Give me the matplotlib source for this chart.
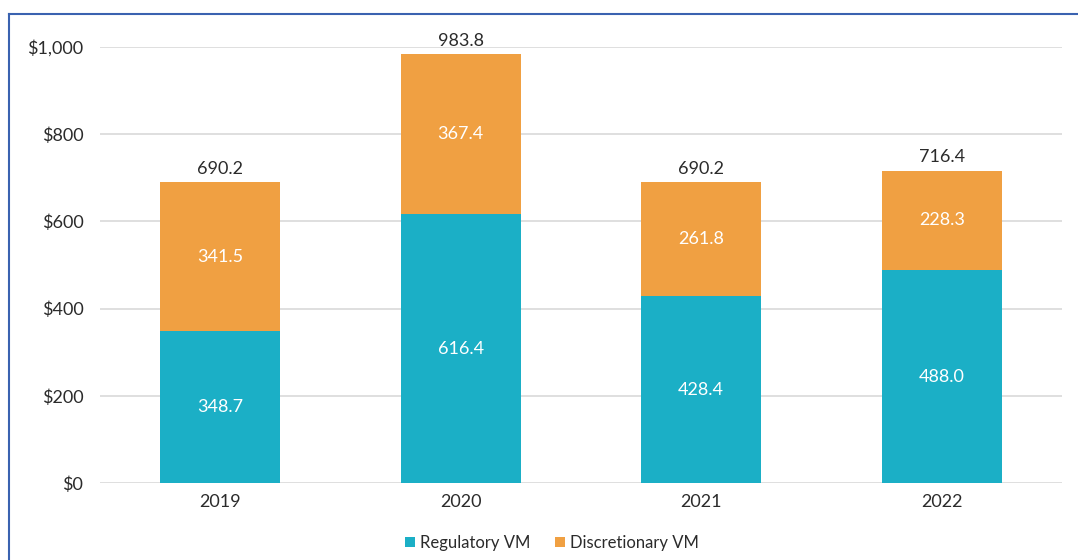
import matplotlib.pyplot as plt
import numpy as np

# Chart data
years = ['2019', '2020', '2021', '2022']
regulatory = [348.7, 616.4, 428.4, 488.0]
discretionary = [341.5, 367.4, 261.8, 228.3]
totals = [690.2, 983.8, 690.2, 716.4]
yticks = [0, 200, 400, 600, 800, 1000]
ytick_labels = ['$0', '$200', '$400', '$600', '$800', '$1,000']

teal = '#1BAFC6'
orange = '#F0A042'
text_col = '#2b2b2b'

plt.rcParams['font.family'] = ['Lato', 'DejaVu Sans']

fig = plt.figure(figsize=(10.78, 5.6), dpi=100)
ax = fig.add_axes([100 / 1078, 77 / 560, 962 / 1078, 436 / 560])

x = np.arange(len(years))
ax.bar(x, regulatory, width=0.5, color=teal, label='Regulatory VM', zorder=3)
ax.bar(x, discretionary, width=0.5, bottom=regulatory, color=orange,
       label='Discretionary VM', zorder=3)

# value labels
for i in range(len(years)):
    ax.text(x[i], regulatory[i] / 2, f'{regulatory[i]:.1f}', ha='center', va='center',
            color='white', fontsize=13, zorder=4)
    ax.text(x[i], regulatory[i] + discretionary[i] / 2, f'{discretionary[i]:.1f}',
            ha='center', va='center', color='white', fontsize=13, zorder=4)
    ax.text(x[i], totals[i] + 12, f'{totals[i]:.1f}', ha='center', va='bottom',
            color=text_col, fontsize=13, clip_on=False)

ax.set_xlim(-0.5, 3.5)
ax.set_ylim(0, 1000)
ax.set_xticks(x)
ax.set_xticklabels(years)
ax.set_yticks(yticks)
ax.set_yticklabels(ytick_labels)
ax.tick_params(axis='both', length=0, labelsize=13, labelcolor=text_col)
ax.tick_params(axis='x', pad=8)
ax.tick_params(axis='y', pad=12)
ax.yaxis.grid(True, color='#d9d9d9', linewidth=1.2, zorder=0)
ax.set_axisbelow(True)
for s in ax.spines.values():
    s.set_visible(False)

ax.legend(loc='upper center', bbox_to_anchor=(0.47, -0.085), ncol=2, frameon=False,
          fontsize=12, handlelength=0.6, handleheight=0.6, handletextpad=0.3,
          columnspacing=1.5, labelcolor=text_col)

# outer frame (partially cropped box)
fig.add_artist(plt.Line2D([9 / 1078, 1.0], [1 - 14 / 560, 1 - 14 / 560],
                          transform=fig.transFigure, color='#3A62B0', linewidth=1.5))
fig.add_artist(plt.Line2D([9 / 1078, 9 / 1078], [0.0, 1 - 14 / 560],
                          transform=fig.transFigure, color='#3A62B0', linewidth=1.5))

fig.savefig('out.png', dpi=100)
